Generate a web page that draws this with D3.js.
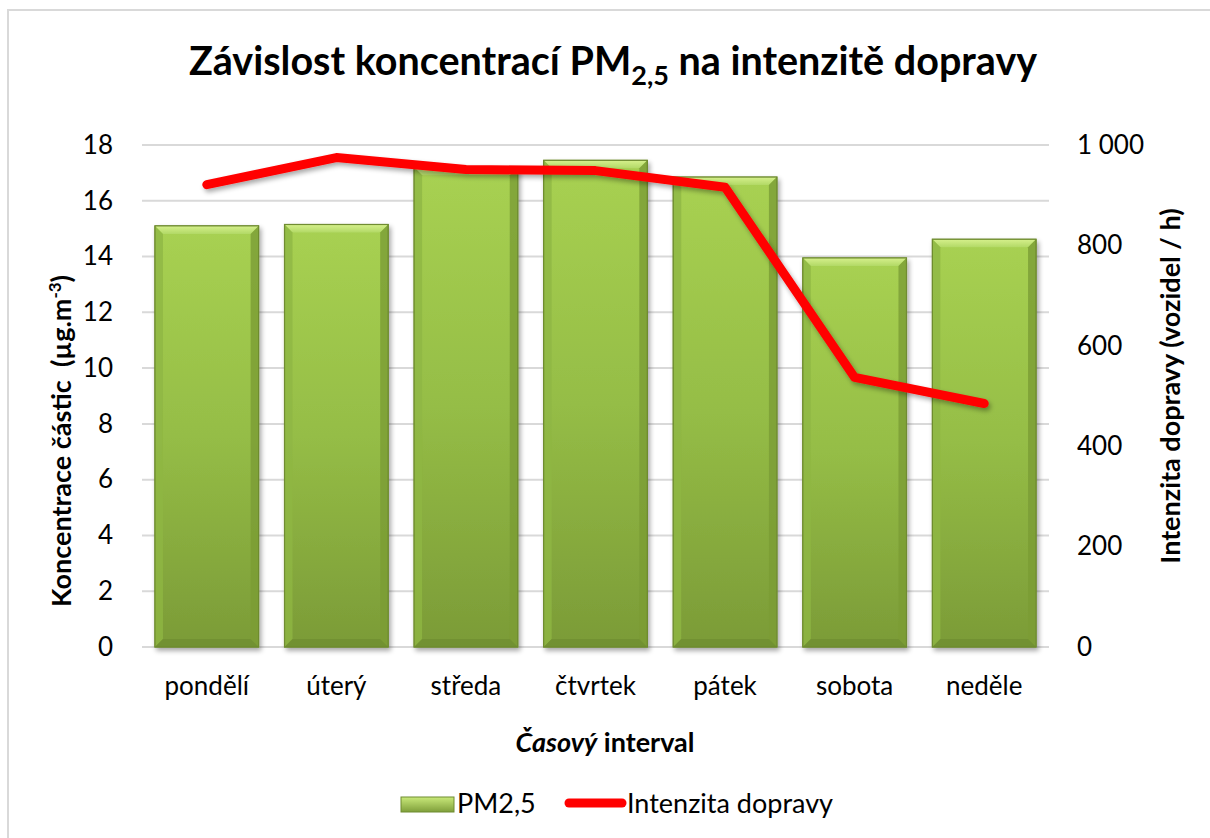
<!DOCTYPE html>
<html><head><meta charset="utf-8">
<script src="https://cdn.jsdelivr.net/npm/d3@7"></script>
<style>
body{margin:0;background:#fff;}
svg{display:block;font-family:Lato,"Open Sans",sans-serif;}
</style></head>
<body>
<svg id="c" width="1210" height="838"></svg>
<script>
const categories = ["pondělí","úterý","středa","čtvrtek","pátek","sobota","neděle"];
const pm25 = [15.1, 15.15, 17.2, 17.45, 16.85, 13.95, 14.62];
const traffic = [921, 975, 951, 949, 916, 537, 485];
const leftTicks = [0,2,4,6,8,10,12,14,16,18];
const rightTicks = [0,200,400,600,800,1000];

const svg = d3.select("#c");
const W=1210,H=838;
const plot = {l:142, r:1049, t:145, b:647};
const FS = 26;

// frame
svg.append("rect").attr("x",8).attr("y",10).attr("width",W).attr("height",H)
  .attr("fill","#fff").attr("stroke","#d9d9d9").attr("stroke-width",2);

const defs = svg.append("defs");
const g1 = defs.append("linearGradient").attr("id","barg").attr("x1",0).attr("y1",0).attr("x2",0).attr("y2",1);
g1.append("stop").attr("offset","0%").attr("stop-color","#a8d152");
g1.append("stop").attr("offset","50%").attr("stop-color","#95bd46");
g1.append("stop").attr("offset","100%").attr("stop-color","#7b9b37");
const g2 = defs.append("linearGradient").attr("id","bevelTop").attr("x1",0).attr("y1",0).attr("x2",0).attr("y2",1);
g2.append("stop").attr("offset","0%").attr("stop-color","#d6f08c");
g2.append("stop").attr("offset","100%").attr("stop-color","#b2d966");
const g3 = defs.append("linearGradient").attr("id","lgBar").attr("x1",0).attr("y1",0).attr("x2",0).attr("y2",1);
g3.append("stop").attr("offset","0%").attr("stop-color","#c9e97a");
g3.append("stop").attr("offset","100%").attr("stop-color","#7f9f3a");
const f = defs.append("filter").attr("id","sh").attr("x","-20%").attr("y","-20%").attr("width","140%").attr("height","140%");
f.append("feGaussianBlur").attr("in","SourceAlpha").attr("stdDeviation",2.5);
f.append("feOffset").attr("dx",2).attr("dy",3).attr("result","b");
f.append("feComponentTransfer").append("feFuncA").attr("type","linear").attr("slope",0.35);
const m = f.append("feMerge"); m.append("feMergeNode"); m.append("feMergeNode").attr("in","SourceGraphic");

const x = d3.scaleBand().domain(categories).range([plot.l,plot.r]).paddingInner(0.2).paddingOuter(0.1);
const y = d3.scaleLinear().domain([0,18]).range([plot.b,plot.t]);
const y2 = d3.scaleLinear().domain([0,1000]).range([plot.b,plot.t]);

// gridlines
svg.append("g").selectAll("line").data(leftTicks).join("line")
  .attr("x1",plot.l).attr("x2",plot.r).attr("y1",d=>y(d)).attr("y2",d=>y(d))
  .attr("stroke","#d9d9d9").attr("stroke-width",2);

// left axis
const la = svg.append("g").attr("transform",`translate(${plot.l},0)`)
  .call(d3.axisLeft(y).tickValues(leftTicks).tickSize(0).tickPadding(29));
la.select(".domain").remove();
la.selectAll("text").attr("font-size",FS).attr("fill","#000").attr("font-family","Lato");

// right axis
const ra = svg.append("g").attr("transform",`translate(${plot.r},0)`)
  .call(d3.axisRight(y2).tickValues(rightTicks).tickSize(0).tickPadding(28)
    .tickFormat(d=>d3.format(",")(d).replace(","," ")));
ra.select(".domain").remove();
ra.selectAll("text").attr("font-size",FS).attr("fill","#000").attr("font-family","Lato");

// bars
const bars = svg.append("g");
categories.forEach((c,i)=>{
  const bx = x(c), bw = x.bandwidth(), by = y(pm25[i]), bh = y(0)-y(pm25[i]);
  const g = bars.append("g").attr("filter","url(#sh)");
  g.append("rect").attr("x",bx).attr("y",by).attr("width",bw).attr("height",bh)
    .attr("fill","url(#barg)").attr("stroke","#6f8c30").attr("stroke-width",1);
  const bev = 8;
  g.append("path").attr("d",`M${bx},${by}L${bx+bw},${by}L${bx+bw-bev},${by+bev}L${bx+bev},${by+bev}Z`)
    .attr("fill","url(#bevelTop)");
  g.append("path").attr("d",`M${bx},${by}L${bx+bev},${by+bev}L${bx+bev},${by+bh-bev}L${bx},${by+bh}Z`)
    .attr("fill","#8fb744").attr("opacity",0.8);
  g.append("path").attr("d",`M${bx+bw},${by}L${bx+bw-bev},${by+bev}L${bx+bw-bev},${by+bh-bev}L${bx+bw},${by+bh}Z`)
    .attr("fill","#7a9c35").attr("opacity",0.8);
  g.append("path").attr("d",`M${bx},${by+bh}L${bx+bev},${by+bh-bev}L${bx+bw-bev},${by+bh-bev}L${bx+bw},${by+bh}Z`)
    .attr("fill","#6e8d2f").attr("opacity",0.7);
  g.append("rect").attr("x",bx).attr("y",by).attr("width",bw).attr("height",bh)
    .attr("fill","none").attr("stroke","#6f8c30").attr("stroke-width",1.2);
});

// line
const line = d3.line().x((d,i)=>x(categories[i])+x.bandwidth()/2).y(d=>y2(d));
svg.append("path").datum(traffic).attr("d",line).attr("fill","none")
  .attr("stroke","#ff0000").attr("stroke-width",9).attr("stroke-linecap","round")
  .attr("stroke-linejoin","round").attr("filter","url(#sh)");

// x labels
svg.append("g").selectAll("text").data(categories).join("text")
  .attr("x",d=>x(d)+x.bandwidth()/2).attr("y",695).attr("text-anchor","middle")
  .attr("font-size",FS).text(d=>d);

// title
const t = svg.append("text").attr("x",613).attr("y",75).attr("text-anchor","middle")
  .attr("font-size",39.5).attr("font-weight","bold");
t.append("tspan").text("Závislost koncentrací PM");
t.append("tspan").attr("font-size",27).attr("dy",10).text("2,5");
t.append("tspan").attr("dy",-10).text(" na intenzitě dopravy");

// x axis title
const xt = svg.append("text").attr("x",605).attr("y",752).attr("text-anchor","middle")
  .attr("font-size",27).attr("font-weight","bold");
xt.append("tspan").attr("font-style","italic").text("Časový");
xt.append("tspan").text(" interval");

// left axis title
const lt = svg.append("text").attr("transform","translate(71,441) rotate(-90)")
  .attr("text-anchor","middle").attr("font-size",27).attr("font-weight","bold");
lt.append("tspan").text("Koncentrace částic\u00a0 (µg.m");
lt.append("tspan").attr("font-size",17).attr("dy",-10).text("-3");
lt.append("tspan").attr("dy",10).text(")");

// right axis title
svg.append("text").attr("transform","translate(1180,386) rotate(-90)")
  .attr("text-anchor","middle").attr("font-size",27).attr("font-weight","bold")
  .text("Intenzita dopravy (vozidel / h)");

// legend
const lg = svg.append("g");
lg.append("rect").attr("x",401).attr("y",797).attr("width",53).attr("height",15)
  .attr("fill","url(#lgBar)").attr("stroke","#6f8c30");
lg.append("text").attr("x",457).attr("y",813).attr("font-size",27).text("PM2,5");
lg.append("line").attr("x1",569).attr("x2",622).attr("y1",803).attr("y2",803)
  .attr("stroke","#ff0000").attr("stroke-width",9).attr("stroke-linecap","round");
lg.append("text").attr("x",627).attr("y",813).attr("font-size",27).text("Intenzita dopravy");
</script>
</body></html>
